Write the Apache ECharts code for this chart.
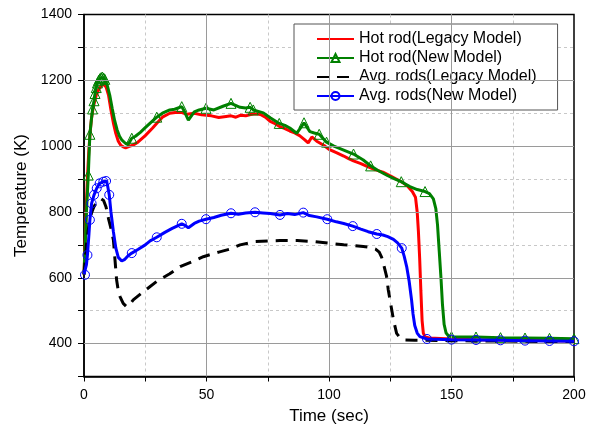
<!DOCTYPE html>
<html><head><meta charset="utf-8">
<script src="https://cdn.jsdelivr.net/npm/echarts@6/dist/echarts.min.js"></script>
<style>html,body{margin:0;padding:0;background:#fff}#c{width:594px;height:430px}</style>
</head><body><div id="c"></div>
<script>
// ---- data (time in s, temperature in K) ----
const seriesNames = ['Hot rod(Legacy Model)', 'Hot rod(New Model)', 'Avg. rods(Legacy Model)', 'Avg. rods(New Model)'];
const hotLegacy = [[0,610],[0.5,720],[1,830],[1.5,920],[2,990],[2.5,1040],[3,1080],[3.5,1105],[4,1125],[5,1155],[6,1172],[7,1183],[8,1188],[9,1180],[10,1155],[11,1110],[12,1070],[13,1038],[14,1015],[15,1003],[16,998],[17,995],[18,998],[20,1003],[22,1012],[25,1032],[28,1055],[30,1072],[32,1088],[35,1100],[38,1103],[40,1102],[42,1097],[45,1100],[48,1095],[50,1094],[52,1092],[55,1087],[58,1090],[60,1092],[62,1088],[64,1094],[66,1092],[68,1096],[70,1098],[72,1096],[74,1088],[76,1075],[78,1068],[80,1059],[82,1053],[84,1046],[86,1040],[88,1032],[90,1020],[91.5,1010],[93,1028],[95,1015],[98,1002],[100,990],[103,980],[106,970],[108,962],[110,955],[113,947],[116,937],[119,928],[122,921],[125,910],[128,898],[130,890],[132,879],[134,862],[135.3,845],[136,800],[136.5,740],[137,660],[137.5,560],[138,470],[138.5,432],[139.2,420],[141,417],[150,414],[160,412],[170,411],[180,410],[190,409],[200,408]];
const hotNew = [[0,610],[0.5,700],[1,800],[1.75,912],[2.4,1036],[3,1080],[3.5,1113],[4.1,1138],[4.5,1160],[5,1178],[5.5,1192],[6,1200],[6.5,1205],[7,1208],[7.5,1210],[8,1207],[8.5,1203],[9.5,1185],[10.5,1155],[11.5,1115],[12.5,1078],[13.5,1050],[14.5,1030],[15.5,1018],[17,1008],[18,1005],[19.5,1024],[21,1030],[23,1042],[25,1056],[27,1070],[29.7,1088],[32,1100],[35,1110],[37,1112],[39.9,1120],[41,1105],[42.6,1079],[45,1104],[47,1110],[49.8,1115],[53,1110],[57,1122],[60,1130],[63.7,1118],[66,1116],[67.8,1118],[69.1,1110],[73.2,1101],[76,1086],[79.7,1069],[82,1063],[84,1055],[86.8,1039],[89.8,1071],[92.2,1044],[94,1040],[96,1036],[99,1012],[102,1000],[106,988],[110,976],[114,958],[117,940],[120,926],[124,910],[127,900],[129.5,892],[133,877],[136,868],[139.2,862],[141,856],[142.6,840],[143.6,810],[144.3,760],[145,680],[145.7,600],[146.3,520],[147,458],[147.8,432],[148.7,424],[150,421],[160,420],[170,418],[180,417],[190,416],[200,415]];
const avgLegacy = [[0,610],[1,700],[2,760],[3,795],[4,815],[5,828],[6,836],[7,840],[8,835],[9,815],[10,780],[11,750],[12,715],[12.7,650],[13.3,594],[14,560],[14.7,543],[16,522],[17.4,512],[19,522],[20.1,533],[25,562],[29.7,589],[35,612],[39.2,634],[44,648],[48.7,664],[55,678],[60,688],[63.7,700],[70,710],[75,712],[80,713],[87,713],[94,710],[100,705],[106,700],[110,698],[114,695],[117,692],[119,687],[120.5,678],[121.5,662],[122.2,644],[123.5,604],[124.2,563],[125.2,520],[126.3,473],[127.6,431],[129,418],[131,411],[135,410],[140,410],[150,409],[160,408],[170,408],[180,407],[190,406],[200,406]];
const avgNew = [[0,610],[0.4,609],[1,640],[1.4,669],[2,730],[2.4,776],[3.1,826],[4.1,852],[5.2,872],[6.4,887],[7.9,892],[9,894],[9.5,885],[10.3,852],[11,800],[12,740],[13,690],[14,662],[15.4,651],[16.5,655],[18,667],[19.5,675],[22,686],[25,700],[27,712],[29.7,723],[33,738],[36,750],[39.9,764],[41,760],[42.6,752],[45,765],[47,772],[49.8,778],[53,783],[56,790],[60,796],[63,793],[66,797],[69.8,799],[73,797],[76,795],[80,791],[83,795],[86,792],[89.5,798],[92,789],[95,785],[99.3,778],[103,770],[106,765],[109.7,757],[113,748],[116,740],[119.5,733],[122,730],[124,725],[126.3,717],[128,706],[129.7,690],[130.7,665],[131.7,634],[132.7,590],[133.7,533],[134.3,490],[135,455],[136,432],[137.1,421],[140,414],[150,412],[160,411],[170,410],[180,409],[190,408],[200,407]];
// times at which markers are drawn
const hotNewMarkT = [1.75,2.4,3.5,4.1,4.5,5,5.5,6,6.5,7,7.5,8,8.5,19.5,29.7,39.9,49.8,60,67.8,69.1,79.7,89.8,96,99,110,117,129.5,139.2,150,160,170,180,190,200];
const avgNewMarkT = [0.4,1.4,2.4,3.1,4.1,5.2,6.4,7.9,9,10.3,19.5,29.7,39.9,49.8,60,69.8,80,89.5,99.3,109.7,119.5,129.7,140,150,160,170,180,190,200];
// axes
const xMin = 0, xMax = 200, xStep = 25, xLabelStep = 50;
const yMin = 300, yMax = 1400, yStep = 100, yLabelStep = 200, yLabelFrom = 400;
const xMajor = [50, 100, 150];
const yMajor = [400, 600, 800, 1000, 1200];

const FONT = '"Liberation Sans", Arial, sans-serif';
function withMarks(data, marks) {
  return data.map(p => marks.some(m => Math.abs(m - p[0]) < 1e-6) ? {value: p} : {value: p, symbol: 'none'});
}
const chart = echarts.init(document.getElementById('c'), null, {renderer: 'canvas'});
chart.setOption({
  animation: false,
  backgroundColor: '#fff',
  textStyle: {fontFamily: FONT},
  grid: {left: 84, top: 14.5, right: 20, bottom: 53.5, show: true, borderColor: '#000', borderWidth: 1.5, backgroundColor: 'transparent'},
  legend: {
    data: seriesNames, orient: 'vertical', left: 294, top: 24,
    padding: [7, 21, 6, 22], itemGap: 3, itemWidth: 37, itemHeight: 10,
    backgroundColor: '#fff', borderColor: '#555', borderWidth: 1,
    textStyle: {fontSize: 16, color: '#000', fontFamily: FONT},
    selectedMode: false
  },
  xAxis: {
    type: 'value', min: xMin, max: xMax, interval: xStep,
    name: 'Time (sec)', nameLocation: 'middle', nameGap: 31,
    nameTextStyle: {fontSize: 17, color: '#000', fontFamily: FONT},
    axisLine: {lineStyle: {color: '#000', width: 1.5}},
    axisTick: {length: 5, lineStyle: {color: '#000', width: 1}},
    axisLabel: {fontSize: 14, color: '#000', margin: 12, fontFamily: FONT,
      formatter: v => (v % xLabelStep === 0 ? String(v) : '')},
    splitLine: {show: true, showMinLine: false, showMaxLine: false, lineStyle: {color: '#c8c8c8', type: [3, 3], width: 1}}
  },
  yAxis: {
    type: 'value', min: yMin, max: yMax, interval: yStep,
    name: 'Temperature (K)', nameLocation: 'middle', nameGap: 54,
    nameTextStyle: {fontSize: 17, color: '#000', fontFamily: FONT},
    axisLine: {show: true, lineStyle: {color: '#000', width: 1.5}},
    axisTick: {show: true, length: 6, lineStyle: {color: '#000', width: 1}},
    axisLabel: {fontSize: 14, color: '#000', margin: 12, fontFamily: FONT,
      formatter: v => (v >= yLabelFrom && v % yLabelStep === 0 ? String(v) : '')},
    splitLine: {show: true, showMinLine: false, showMaxLine: false, lineStyle: {color: '#c8c8c8', type: [3, 3], width: 1}}
  },
  series: [
    {
      type: 'line', name: '_grid', data: [], z: 1, silent: true,
      markLine: {silent: true, symbol: 'none', label: {show: false},
        lineStyle: {color: '#9a9a9a', type: 'solid', width: 1},
        data: xMajor.map(v => ({xAxis: v})).concat(yMajor.map(v => ({yAxis: v})))}
    },
    {
      type: 'line', name: seriesNames[0], data: hotLegacy, symbol: 'none',
      lineStyle: {color: '#ff0000', width: 3}, itemStyle: {color: 'rgba(0,0,0,0)'}, z: 3
    },
    {
      type: 'line', name: seriesNames[1], data: withMarks(hotNew, hotNewMarkT),
      symbol: 'triangle', symbolSize: 10, showSymbol: true, showAllSymbol: true,
      lineStyle: {color: '#008000', width: 3},
      itemStyle: {color: 'rgba(255,255,255,0)', borderColor: '#008000', borderWidth: 1}, z: 4
    },
    {
      type: 'line', name: seriesNames[2], data: avgLegacy, symbol: 'none',
      lineStyle: {color: '#000', width: 3, type: [12, 8]}, itemStyle: {color: 'rgba(0,0,0,0)'}, z: 5
    },
    {
      type: 'line', name: seriesNames[3], data: withMarks(avgNew, avgNewMarkT),
      symbol: 'circle', symbolSize: 9, showSymbol: true, showAllSymbol: true,
      lineStyle: {color: '#0000ff', width: 3},
      itemStyle: {color: 'rgba(255,255,255,0)', borderColor: '#0000ff', borderWidth: 1}, z: 6
    }
  ]
});
</script></body></html>
